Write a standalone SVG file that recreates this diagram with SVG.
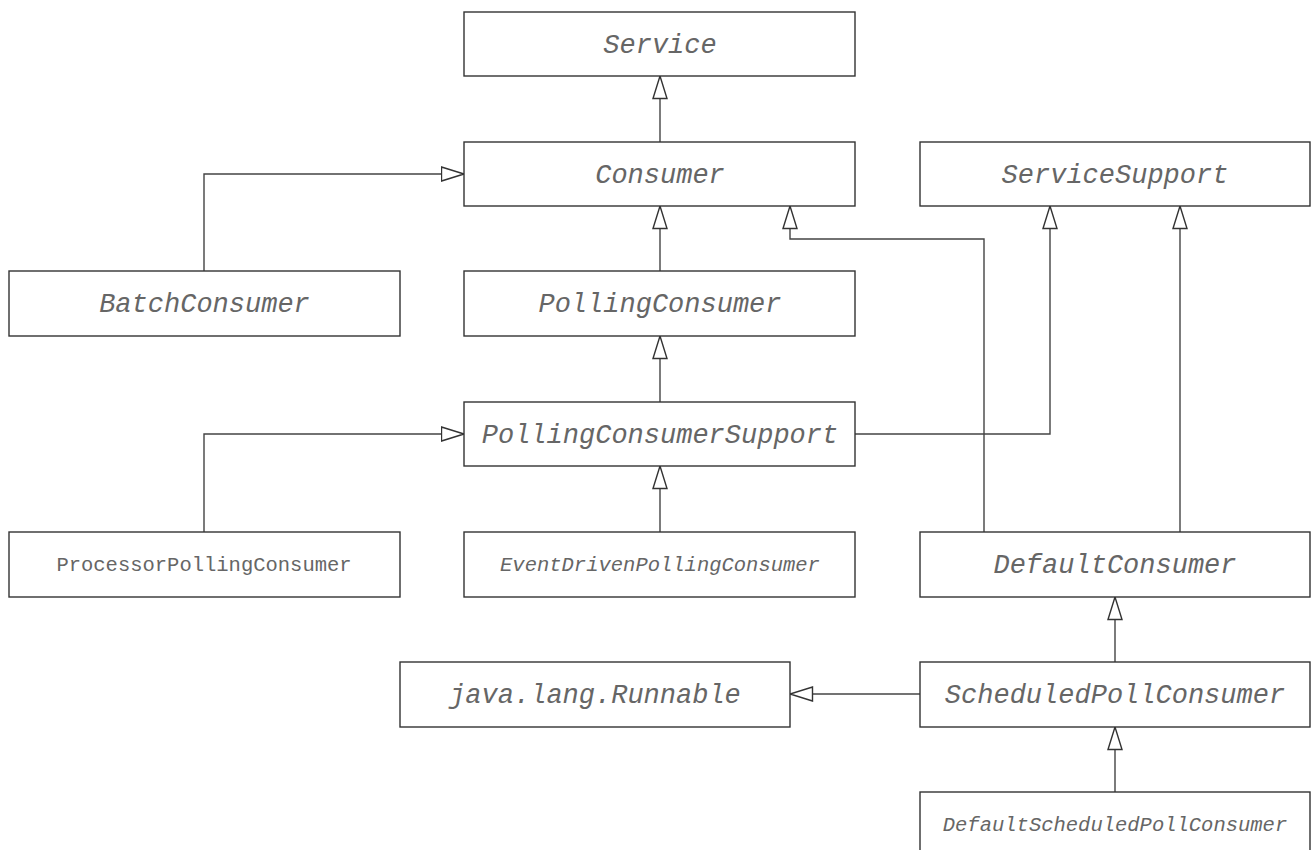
<svg xmlns="http://www.w3.org/2000/svg" width="1312" height="850" viewBox="0 0 1312 850">
<style>
.box{fill:#fff;stroke:#333;stroke-width:1.4}
.t{font-family:"Liberation Mono","Courier New",monospace;font-style:italic;font-size:27px;fill:#666;text-anchor:middle}
.s{font-family:"Liberation Mono","Courier New",monospace;font-size:20.5px;fill:#666;text-anchor:middle}
.si{font-style:italic}
.c{fill:none;stroke:#444;stroke-width:1.4}
</style>
<defs>
<marker id="gen" viewBox="0 0 24 16" markerWidth="24" markerHeight="16" refX="23.5" refY="8" orient="auto" markerUnits="userSpaceOnUse">
<path d="M1,1 L23.5,8 L1,15 Z" fill="#fff" stroke="#333" stroke-width="1.4"/>
</marker>
</defs>
<rect width="1312" height="850" fill="#fff"/>
<g id="connectors">
<path class="c" d="M660,142 V76" marker-end="url(#gen)"/>
<path class="c" d="M204,271 V174 H464" marker-end="url(#gen)"/>
<path class="c" d="M660,271 V206" marker-end="url(#gen)"/>
<path class="c" d="M660,402 V336" marker-end="url(#gen)"/>
<path class="c" d="M855,434 H1050 V206" marker-end="url(#gen)"/>
<path class="c" d="M204,532 V434 H464" marker-end="url(#gen)"/>
<path class="c" d="M660,532 V466" marker-end="url(#gen)"/>
<path class="c" d="M984,532 V239 H790 V206" marker-end="url(#gen)"/>
<path class="c" d="M1180,532 V206" marker-end="url(#gen)"/>
<path class="c" d="M1115,662 V597" marker-end="url(#gen)"/>
<path class="c" d="M920,694 H790" marker-end="url(#gen)"/>
<path class="c" d="M1115,792 V727" marker-end="url(#gen)"/>
</g>
<g id="Service"><rect class="box" x="464" y="12" width="391" height="64"/><text class="t" x="660" y="53">Service</text></g>
<g id="Consumer"><rect class="box" x="464" y="142" width="391" height="64"/><text class="t" x="660" y="183">Consumer</text></g>
<g id="ServiceSupport"><rect class="box" x="920" y="142" width="390" height="64"/><text class="t" x="1115" y="183">ServiceSupport</text></g>
<g id="BatchConsumer"><rect class="box" x="9" y="271" width="391" height="65"/><text class="t" x="204.5" y="312">BatchConsumer</text></g>
<g id="PollingConsumer"><rect class="box" x="464" y="271" width="391" height="65"/><text class="t" x="660" y="312">PollingConsumer</text></g>
<g id="PollingConsumerSupport"><rect class="box" x="464" y="402" width="391" height="64"/><text class="t" x="660" y="443">PollingConsumerSupport</text></g>
<g id="ProcessorPollingConsumer"><rect class="box" x="9" y="532" width="391" height="65"/><text class="s" x="204" y="571">ProcessorPollingConsumer</text></g>
<g id="EventDrivenPollingConsumer"><rect class="box" x="464" y="532" width="391" height="65"/><text class="s si" x="660" y="571">EventDrivenPollingConsumer</text></g>
<g id="DefaultConsumer"><rect class="box" x="920" y="532" width="390" height="65"/><text class="t" x="1115" y="573">DefaultConsumer</text></g>
<g id="Runnable"><rect class="box" x="400" y="662" width="390" height="65"/><text class="t" x="595" y="703">java.lang.Runnable</text></g>
<g id="ScheduledPollConsumer"><rect class="box" x="920" y="662" width="390" height="65"/><text class="t" x="1115" y="703">ScheduledPollConsumer</text></g>
<g id="DefaultScheduledPollConsumer"><rect class="box" x="920" y="792" width="390" height="65"/><text class="s si" x="1115" y="831">DefaultScheduledPollConsumer</text></g>
</svg>
